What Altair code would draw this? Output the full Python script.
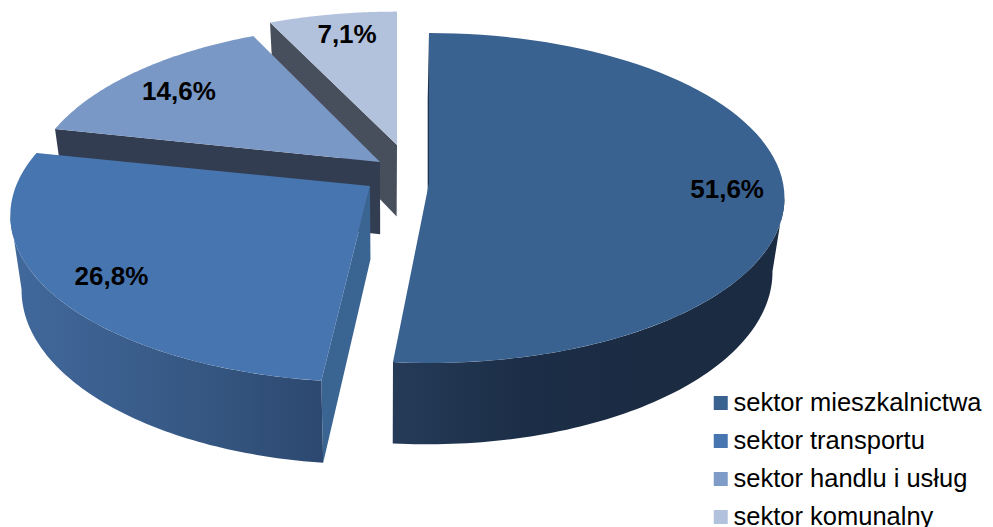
import math
import altair as alt
import pandas as pd

categories = ["sektor mieszkalnictwa", "sektor transportu", "sektor handlu i usług", "sektor komunalny"]
shares = [51.6, 26.8, 14.6, 7.1]
share_labels = ["51,6%", "26,8%", "14,6%", "7,1%"]
top_colors = ["#3A6291", "#4775AF", "#7A98C5", "#B3C2DC"]
legend_colors = ["#3A6291", "#4775AF", "#7F9CC8", "#B3C2DC"]

# projection of each exploded slice: apex, radii, perspective
geom = [
    dict(ax=429, ay=183, rx=354, ry=163.6, k=0.0909, lab=(0, 0.84)),
    dict(ax=370, ay=186, rx=354, ry=161.5, k=0.177, lab=(-1.8, 0.84)),
    dict(ax=380, ay=162, rx=345, ry=161.5, k=0.177, lab=(-2.0, 0.785)),
    dict(ax=397, ay=145, rx=346, ry=157, k=0.177, lab=(1.0, 0.82)),
]
edges = [0]
for s in shares:
    edges.append(min(edges[-1] + s * 3.6, 360))
main_end = edges[1] - 0.45      # perspective correction of the first cut
second_start = edges[1] + 0.75  # perspective correction of the second slice's cut


def top(i, deg, r=1.0):
    g = geom[i]
    t = math.radians(deg)
    u, v = math.sin(t) * r, math.cos(t) * r
    d = 1 + g["k"] * v
    return g["ax"] + g["rx"] * u / d, g["ay"] - g["ry"] * v / d


def low(p):
    x, y = p
    return 385 + 0.97 * (x - 385), y + 65 + 0.045 * y


def arc(i, a, b, n=80):
    return [top(i, a + (b - a) * j / n) for j in range(n + 1)]


X = alt.X("x:Q", scale=alt.Scale(domain=[8, 985]), axis=None)
Y = alt.Y("y:Q", scale=alt.Scale(domain=[527, 8]), axis=None)


def frame(pts):
    return pd.DataFrame([dict(x=p[0], y=p[1], i=j) for j, p in enumerate(pts)])


def shape(pts, fill):
    return alt.Chart(frame(pts)).mark_line(fill=fill, stroke="transparent", strokeWidth=0).encode(
        x=X, y=Y, order=alt.Order("i:Q"))


def grad(stops):
    n = len(stops) - 1
    return alt.LinearGradient(gradient="linear", x1=0, x2=1, y1=0, y2=0,
                              stops=[alt.GradientStop(color=c, offset=j / n) for j, c in enumerate(stops)])


def wall(i, deg):
    a = top(i, 0, 0)
    b = top(i, deg)
    return [a, b, low(b), low(a)]


def rim(i, a, b):
    tp = arc(i, a, b)
    return tp + [low(p) for p in reversed(tp)]


color = alt.Color("cat:N", scale=alt.Scale(domain=categories, range=legend_colors), legend=alt.Legend(
    title=None, orient="none", legendX=700, legendY=380, symbolType="square", symbolSize=196,
    symbolStrokeWidth=0, symbolOpacity=1, labelFont="Liberation Sans", labelFontSize=25.5, labelColor="#000000",
    rowPadding=8, labelOffset=0, labelLimit=400, symbolOffset=0, clipHeight=30))

layers = []
# legend source, hidden behind the largest slice
legend_df = pd.DataFrame({"cat": categories, "x": [560] * 4, "y": [150] * 4})
layers.append(alt.Chart(legend_df).mark_square(size=196, filled=True, opacity=1).encode(x=X, y=Y, color=color))
layers += [
    # slice 4
    shape(wall(3, edges[3]), "#484F5C"),
    shape(arc(3, edges[3], edges[4]) + [top(3, 0, 0)], top_colors[3]),
    # slice 3
    shape(wall(2, edges[2]), "#333D52"),
    shape(arc(2, edges[2], edges[3]) + [top(2, 0, 0)], top_colors[2]),
    # slice 2
    shape(wall(1, second_start), "#3A6491"),
    shape(rim(1, second_start, 260), grad(["#42699C", "#3B5F8E", "#34557F", "#2C4870"])),
    shape([top(1, 0, 0)] + arc(1, second_start, edges[2]), top_colors[1]),
    # slice 1
    shape(wall(0, 0), "#1F3350"),
    shape(rim(0, 95, main_end), grad(["#253B58", "#1C2E47", "#1A2B42", "#1A2B42"])),
    shape([top(0, 0, 0)] + arc(0, 0, main_end), top_colors[0]),
]

lab = []
for i, g in enumerate(geom):
    mid = (edges[i] + edges[i + 1]) / 2 + g["lab"][0]
    x, y = top(i, mid, g["lab"][1])
    lab.append(dict(x=x, y=y, t=share_labels[i]))
layers.append(alt.Chart(pd.DataFrame(lab)).mark_text(
    font="Liberation Sans", fontSize=26, fontWeight="bold", color="#000000").encode(x=X, y=Y, text="t:N"))

chart = alt.layer(*layers).properties(
    width=977, height=519, padding=0, autosize=alt.AutoSizeParams(type="none"), background="#FFFFFF",
).configure_view(strokeWidth=0)

chart.save("out.html", embed_options={"renderer": "svg", "actions": False})
